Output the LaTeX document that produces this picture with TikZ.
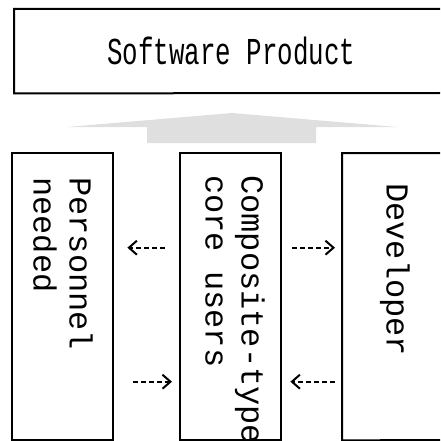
\documentclass[tikz,border=0pt]{standalone}
\usepackage{fontspec}
\usetikzlibrary{positioning, arrows.meta}
\newfontfamily\headfont[FakeStretch=0.68]{Liberation Mono}
\newfontfamily\sidefont{Liberation Mono}

\begin{document}
\begin{tikzpicture}[
        x=1pt, y=1pt,
        box/.style={rectangle, inner sep=0pt, anchor=north west},
        frame/.style={line width=2pt, line join=miter},
        product_node/.style={box, minimum width=434pt, minimum height=84pt, font=\headfont\fontsize{38}{40}\selectfont},
        role_node/.style={box, minimum width=101pt, minimum height=287pt},
        role_text/.style={rotate=-90, anchor=north west, inner sep=0pt, align=left, font=\sidefont\fontsize{32}{36}\selectfont},
        flow/.style={-{Straight Barb[length=8pt, width=14pt]}, line width=2pt, dash pattern=on 5pt off 3pt},
        lift/.style={fill=gray!25, draw=none}
    ]
        \path [use as bounding box] (0,-441) rectangle (440,0);

        % Nodes
        \node (product) [product_node] at (14,-9) {Software Product};
        \node (personnel) [role_node] at (12,-153) {};
        \node (core) [role_node] at (180,-153) {};
        \node (developer) [role_node] at (342,-153) {};

        % Frames (right ends run off the page)
        \draw [frame] (440,-9) -- (product.north west) -- (product.south west) -- (440,-93);
        \draw [frame] (personnel.south west) -- (personnel.north west) -- (personnel.north east) -- (personnel.south east) -- cycle;
        \draw [frame] (core.south west) -- (core.north west) -- (core.north east) -- (core.south east) -- cycle;
        \draw [frame] (440,-153) -- (developer.north west) -- (developer.south west) -- (440,-440);

        % Texts
        \node (personnel_text) [role_text] at (93,-177) {Personnel\\needed};
        \node (core_text) [role_text] at (265,-175) {Composite-type\\core users};
        \node (developer_text) [role_text] at (410,-183) {Developer};

        % Lift arrow
        \fill [lift] (147,-143) -- (147,-127) -- (67,-127) -- (232,-113) -- (397,-127) -- (316,-127) -- (316,-143) -- cycle;

        % Arrow ends
        \coordinate (ask_from) at ([xshift=-15pt, yshift=49pt]core.west);
        \coordinate (ask_to) at ([xshift=14pt, yshift=49pt]personnel.east);
        \coordinate (need_from) at ([xshift=20pt, yshift=-85pt]personnel.east);
        \coordinate (need_to) at ([xshift=-8pt, yshift=-85pt]core.west);
        \coordinate (order_from) at ([xshift=11pt, yshift=49pt]core.east);
        \coordinate (order_to) at ([xshift=-7pt, yshift=49pt]developer.west);
        \coordinate (deliver_from) at ([xshift=-7pt, yshift=-85pt]developer.west);
        \coordinate (deliver_to) at ([xshift=9pt, yshift=-85pt]core.east);

        % Arrows
        \draw [flow] (ask_from) -- (ask_to);
        \draw [flow] (need_from) -- (need_to);
        \draw [flow] (order_from) -- (order_to);
        \draw [flow] (deliver_from) -- (deliver_to);
    \end{tikzpicture}
\end{document}
